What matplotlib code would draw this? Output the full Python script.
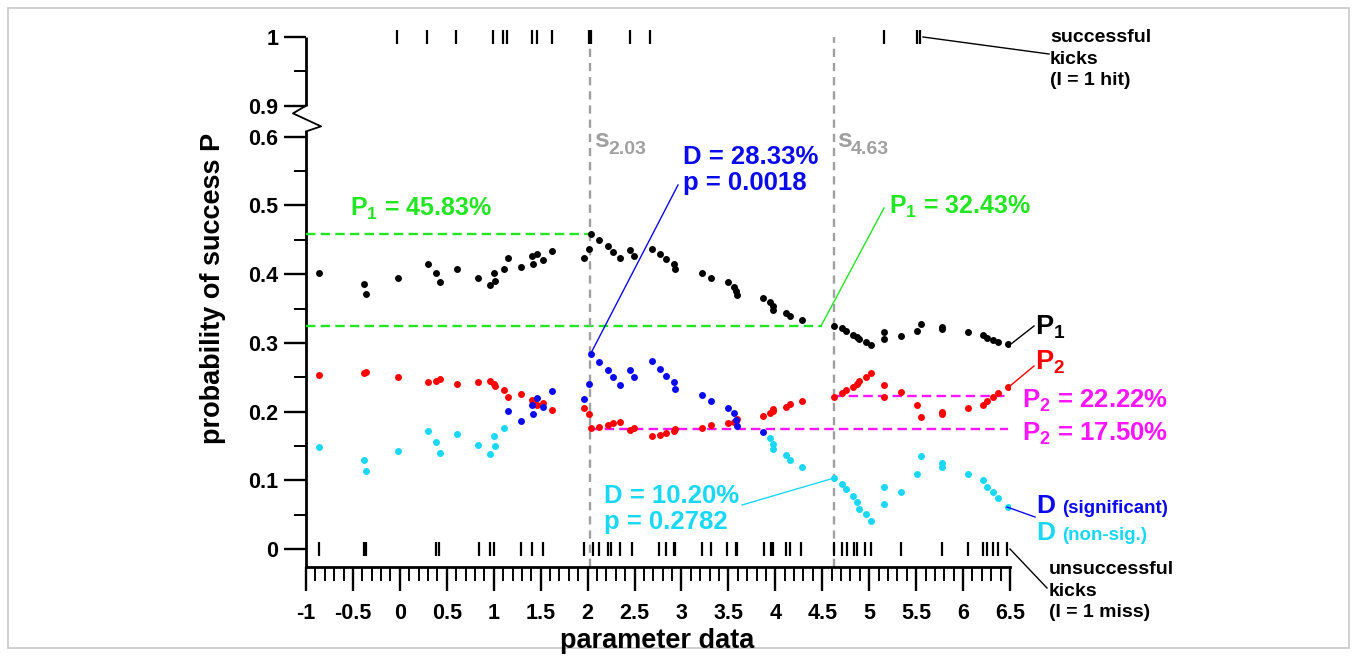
import numpy as np
import matplotlib
matplotlib.use("Agg")
import matplotlib.pyplot as plt
from matplotlib.patches import Rectangle

plt.rcParams['font.family'] = ['Liberation Sans', 'DejaVu Sans']
plt.rcParams['font.weight'] = 'bold'
plt.rcParams['mathtext.fontset'] = 'custom'
plt.rcParams['mathtext.rm'] = 'Liberation Sans:bold'
plt.rcParams['mathtext.it'] = 'Liberation Sans:bold'
plt.rcParams['mathtext.bf'] = 'Liberation Sans:bold'

# ---------------- data ----------------
split_x = [-0.86, -0.38, -0.36, -0.02, 0.30, 0.38, 0.43, 0.61, 0.83, 0.96,
           1.00, 1.01, 1.11, 1.15, 1.29, 1.41, 1.42, 1.46, 1.52, 1.62,
           1.96, 2.02, 2.04, 2.12, 2.22, 2.27, 2.35, 2.45, 2.49, 2.69,
           2.77, 2.84, 2.92, 2.93, 3.22, 3.31, 3.50, 3.56, 3.58, 3.59,
           3.87, 3.94, 3.97, 3.98, 4.11, 4.16, 4.28, 4.63, 4.71, 4.75,
           4.83, 4.87, 4.89, 4.97, 5.02, 5.16, 5.16, 5.34, 5.51, 5.55,
           5.78, 5.78, 6.05, 6.21, 6.25, 6.32, 6.37, 6.48]
p1 = [0.402, 0.386, 0.371, 0.394, 0.415, 0.402, 0.388, 0.407, 0.395, 0.384,
      0.402, 0.390, 0.407, 0.423, 0.411, 0.426, 0.415, 0.430, 0.420, 0.433,
      0.424, 0.436, 0.459, 0.450, 0.441, 0.432, 0.424, 0.435, 0.427, 0.437,
      0.429, 0.422, 0.415, 0.407, 0.401, 0.394, 0.388, 0.382, 0.375, 0.370,
      0.365, 0.359, 0.353, 0.348, 0.344, 0.339, 0.334, 0.325, 0.321, 0.317,
      0.312, 0.308, 0.305, 0.301, 0.297, 0.316, 0.305, 0.310, 0.318, 0.327,
      0.323, 0.320, 0.316, 0.311, 0.307, 0.304, 0.302, 0.298]
p2 = [0.254, 0.256, 0.258, 0.250, 0.243, 0.245, 0.248, 0.240, 0.243, 0.245,
      0.240, 0.238, 0.231, 0.222, 0.225, 0.217, 0.214, 0.210, 0.213, 0.203,
      0.205, 0.196, 0.176, 0.178, 0.180, 0.183, 0.185, 0.174, 0.176, 0.165,
      0.166, 0.169, 0.172, 0.175, 0.176, 0.180, 0.183, 0.185, 0.187, 0.190,
      0.194, 0.198, 0.201, 0.204, 0.207, 0.211, 0.215, 0.222, 0.227, 0.231,
      0.236, 0.240, 0.245, 0.251, 0.256, 0.222, 0.239, 0.228, 0.210, 0.192,
      0.197, 0.200, 0.205, 0.210, 0.215, 0.222, 0.227, 0.236]
d_vals = [0.148, 0.130, 0.114, 0.143, 0.172, 0.156, 0.140, 0.167, 0.152, 0.138,
          0.164, 0.150, 0.176, 0.201, 0.186, 0.209, 0.197, 0.220, 0.207, 0.230,
          0.218, 0.240, 0.284, 0.272, 0.261, 0.250, 0.239, 0.261, 0.251, 0.273,
          0.262, 0.252, 0.243, 0.233, 0.224, 0.215, 0.206, 0.198, 0.188, 0.179,
          0.171, 0.162, 0.153, 0.145, 0.137, 0.129, 0.119, 0.104, 0.095, 0.087,
          0.078, 0.068, 0.059, 0.051, 0.041, 0.091, 0.066, 0.083, 0.109, 0.136,
          0.126, 0.119, 0.110, 0.101, 0.091, 0.083, 0.075, 0.062]
d_significant = [0] * 13 + [1] * 28 + [0] * 27

hits_x = [-0.03, 0.29, 0.60, 0.99, 1.10, 1.14, 1.41, 1.46, 1.62, 2.02, 2.04,
          2.45, 2.67, 5.16, 5.51, 5.54]
misses_x = [-0.86, -0.38, -0.36, 0.39, 0.42, 0.84, 0.96, 1.00, 1.29, 1.41, 1.53,
            1.96, 2.06, 2.12, 2.22, 2.25, 2.35, 2.47, 2.76, 2.83, 2.92, 2.93,
            3.22, 3.31, 3.49, 3.58, 3.59, 3.88, 3.95, 3.98, 4.11, 4.16, 4.27,
            4.62, 4.71, 4.76, 4.84, 4.87, 4.96, 5.02, 5.34, 5.78, 6.05, 6.21,
            6.25, 6.32, 6.37, 6.47]

splits = [2.03, 4.63]
p1_left_best = 0.4583
p1_left_second = 0.3243
p2_right_best = 0.1750
p2_right_second = 0.2222

x_ticks = [-1, -0.5, 0, 0.5, 1, 1.5, 2, 2.5, 3, 3.5, 4, 4.5, 5, 5.5, 6, 6.5]
x_tick_labels = ['-1', '-0.5', '0', '0.5', '1', '1.5', '2', '2.5', '3', '3.5',
                 '4', '4.5', '5', '5.5', '6', '6.5']
y_ticks = [0, 0.1, 0.2, 0.3, 0.4, 0.5, 0.6, 0.9, 1.0]
y_tick_labels = ['0', '0.1', '0.2', '0.3', '0.4', '0.5', '0.6', '0.9', '1']

# ---------------- colours ----------------
C_GREEN = '#22e622'
C_MAG = '#ff14ff'
C_BLUE = '#0a0aee'
C_CYAN = '#18d8f5'
C_GRAY = '#a0a0a0'
C_RED = '#ff0000'

# ---------------- broken y scale ----------------
def fwd(y):
    y = np.asarray(y, dtype=float)
    return np.where(y <= 0.6, y,
                    np.where(y <= 0.9, 0.6 + (y - 0.6) * 0.15, y - 0.255))

def inv(v):
    v = np.asarray(v, dtype=float)
    return np.where(v <= 0.6, v,
                    np.where(v <= 0.645, 0.6 + (v - 0.6) / 0.15, v + 0.255))

W, H = 1357, 656
fig = plt.figure(figsize=(W / 100, H / 100), dpi=100)
fig.patches.append(Rectangle((8 / W, 8 / H), 1341 / W, 640 / H, transform=fig.transFigure,
                             fill=False, edgecolor='#c8c8c8', lw=1.2))
ax = fig.add_axes([306 / W, (H - 567) / H, (1010 - 306) / W, (567 - 37) / H])
ax.set_yscale('function', functions=(fwd, inv))
ax.set_xlim(-1, 6.5)
ax.set_ylim(-0.026, 1.0)

for s in ['top', 'right', 'left']:
    ax.spines[s].set_visible(False)
ax.spines['bottom'].set_linewidth(2.0)

# left spine with break
sp = -1.0
ax.plot([sp, sp], [-0.026, 0.651], color='k', lw=2.0, clip_on=False, solid_capstyle='butt')
ax.plot([sp, sp - 13 / 93.7, sp + 15 / 93.7, sp, sp],
        [0.9, 0.826, 0.70, 0.651, 0.651], color='k', lw=1.3, clip_on=False)
ax.plot([sp, sp], [0.9, 1.0], color='k', lw=2.0, clip_on=False, solid_capstyle='butt')

# ticks
ax.set_xticks(x_ticks)
ax.set_xticklabels(x_tick_labels)
ax.set_xticks(np.arange(-0.9, 6.45, 0.1), minor=True)
ax.set_yticks(y_ticks)
ax.set_yticklabels(y_tick_labels)
ax.set_yticks([0.05, 0.15, 0.25, 0.35, 0.45, 0.55, 0.95], minor=True)
ax.tick_params(axis='x', which='major', direction='out', length=17, width=1.7,
               labelsize=15.5, pad=9)
ax.tick_params(axis='x', which='minor', direction='out', length=10, width=1.4)
ax.tick_params(axis='y', which='major', direction='out', length=16, width=1.7,
               labelsize=15.5, pad=4)
ax.tick_params(axis='y', which='minor', direction='out', length=8.5, width=1.4)
for lab in ax.get_xticklabels() + ax.get_yticklabels():
    lab.set_fontweight('bold')

# reference lines
ax.plot([-1, splits[0]], [p1_left_best] * 2, ls=(0, (4, 2.2)), color=C_GREEN, lw=1.7)
ax.plot([-1, 4.5], [p1_left_second] * 2, ls=(0, (4, 2.2)), color=C_GREEN, lw=1.7)
ax.plot([splits[0], 6.48], [p2_right_best] * 2, ls=(0, (4, 2.2)), color=C_MAG, lw=1.7)
ax.plot([splits[1], 6.48], [p2_right_second] * 2, ls=(0, (4, 2.2)), color=C_MAG, lw=1.7)
for s in splits:
    ax.plot([s, s], [-0.026, 1.0], ls=(0, (3.5, 2.5)), color=C_GRAY, lw=1.7, clip_on=False)

# rug of kicks
ax.plot(hits_x, [1.0] * len(hits_x), ls='none', marker='|', ms=9.5, mew=1.6, color='k',
        clip_on=False)
ax.plot(misses_x, [0.0] * len(misses_x), ls='none', marker='|', ms=9.5, mew=1.6, color='k',
        clip_on=False)

# series
sx = np.array(split_x)
sig = np.array(d_significant, dtype=bool)
dv = np.array(d_vals)
ms = 25
ax.scatter(sx, p1, s=ms, color='k', zorder=5, linewidths=0)
ax.scatter(sx, p2, s=ms, color=C_RED, zorder=5, linewidths=0)
ax.scatter(sx[~sig], dv[~sig], s=ms, color=C_CYAN, zorder=5, linewidths=0)
ax.scatter(sx[sig], dv[sig], s=ms, color=C_BLUE, zorder=5, linewidths=0)

# ---------------- annotations ----------------
def ftext(x, y, s, **kw):
    kw.setdefault('fontweight', 'bold')
    kw.setdefault('va', 'baseline')
    fig.text(x / W, 1 - y / H, s, **kw)

def fline(pts, color, lw=1.0):
    xs = [p[0] / W for p in pts]
    ys = [1 - p[1] / H for p in pts]
    fig.add_artist(plt.Line2D(xs, ys, color=color, lw=lw, transform=fig.transFigure))

# s labels
ftext(594, 147, 's', fontsize=19, color=C_GRAY)
ftext(608, 154, '2.03', fontsize=14, color=C_GRAY)
ftext(837, 147, 's', fontsize=19, color=C_GRAY)
ftext(851, 154, '4.63', fontsize=14, color=C_GRAY)

# P1 levels
ftext(350, 216, r'P$_\mathregular{1}$ = 45.83%', fontsize=18, color=C_GREEN)
ftext(889, 214, r'P$_\mathregular{1}$ = 32.43%', fontsize=18, color=C_GREEN)
fline([(821, 326), (884, 208)], C_GREEN, 1.0)

# D max
ftext(683, 164, 'D = 28.33%', fontsize=18.5, color=C_BLUE)
ftext(683, 190, 'p = 0.0018', fontsize=18.5, color=C_BLUE)
fline([(590, 355), (678, 185)], C_BLUE, 1.0)

# D second
ftext(604, 503, 'D = 10.20%', fontsize=18.5, color=C_CYAN)
ftext(604, 529, 'p = 0.2782', fontsize=18.5, color=C_CYAN)
fline([(834, 478), (742, 505)], C_CYAN, 1.0)

# P2 levels
ftext(1022, 408, r'P$_\mathregular{2}$ = 22.22%', fontsize=18.5, color=C_MAG)
ftext(1022, 441, r'P$_\mathregular{2}$ = 17.50%', fontsize=18.5, color=C_MAG)

# series labels
ftext(1035, 335, r'P$_\mathregular{1}$', fontsize=19.5, color='k')
fline([(1011, 344), (1034, 326)], 'k', 1.0)
ftext(1035, 369, r'P$_\mathregular{2}$', fontsize=19.5, color=C_RED)
fline([(1010, 386), (1034, 366)], C_RED, 1.0)
ftext(1036, 513, 'D', fontsize=19, color=C_BLUE)
ftext(1062, 513, '(significant)', fontsize=13.5, color=C_BLUE)
ftext(1036, 540, 'D', fontsize=19, color=C_CYAN)
ftext(1062, 540, '(non-sig.)', fontsize=13.5, color=C_CYAN)
fline([(1007, 507), (1035, 517)], C_BLUE, 1.0)

# rug labels
for i, line in enumerate(['successful', 'kicks', '(I = 1 hit)']):
    ftext(1050, 42 + 21.7 * i, line, fontsize=14, color='k')
fline([(923, 37), (1049, 54)], 'k', 1.0)
for i, line in enumerate(['unsuccessful', 'kicks', '(I = 1 miss)']):
    ftext(1049, 574 + 21.7 * i, line, fontsize=14, color='k')
fline([(1010, 549), (1047, 588)], 'k', 1.0)

# axis labels
ftext(657, 641, 'parameter data', fontsize=19.5, color='k', ha='center', va='center')
ftext(213, 288, 'probability of success P', fontsize=19.5, color='k', ha='center',
      va='center', rotation=90)

fig.savefig('out.png', dpi=100)
